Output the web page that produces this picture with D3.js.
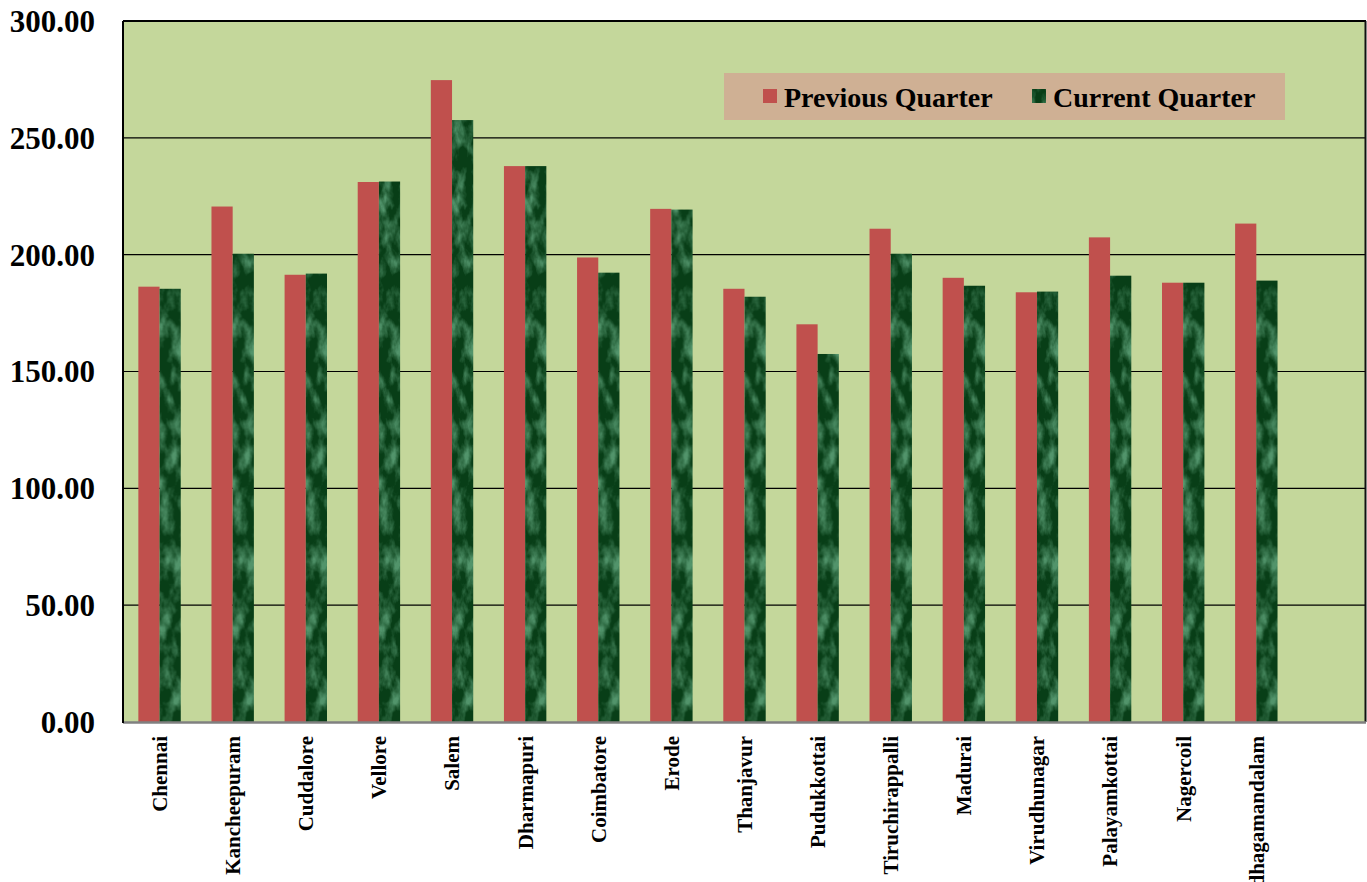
<!DOCTYPE html>
<html>
<head>
<meta charset="utf-8">
<script src="https://cdn.jsdelivr.net/npm/d3@7/dist/d3.min.js"></script>
<style>
html,body{margin:0;padding:0;background:#fff;overflow:hidden;}
svg{display:block;}
text{font-family:"Liberation Serif","Times New Roman",serif;font-weight:bold;fill:#000;}
</style>
</head>
<body>
<svg id="chart" width="1367" height="882"></svg>
<script>
const categories = ["Chennai","Kancheepuram","Cuddalore","Vellore","Salem","Dharmapuri","Coimbatore","Erode","Thanjavur","Pudukkottai","Tiruchirappalli","Madurai","Virudhunagar","Palayamkottai","Nagercoil","Udhagamandalam"];
const previousQuarter = [186.3,220.6,191.4,231.1,274.7,237.9,198.8,219.6,185.4,170.2,211.1,190.1,183.9,207.4,188.0,213.3];
const currentQuarter  = [185.4,200.4,191.9,231.3,257.6,237.9,192.3,219.3,182.0,157.5,200.4,186.7,184.2,191.0,188.0,188.9];
const yTicks = [0,50,100,150,200,250,300];
const seriesNames = ["Previous Quarter","Current Quarter"];

const svg = d3.select("#chart");
const W = 1367, H = 882;
const m = {left:123, right:1, top:21, bottom:160};
const pw = W - m.left - m.right, ph = H - m.top - m.bottom;

const defs = svg.append("defs");
const f = defs.append("filter").attr("id","marble").attr("x",0).attr("y",0).attr("width",1).attr("height",1)
 .attr("filterUnits","objectBoundingBox").attr("color-interpolation-filters","sRGB");
f.append("feTurbulence").attr("type","fractalNoise").attr("baseFrequency","0.08 0.04").attr("numOctaves",4).attr("seed",7).attr("result","n");
f.append("feColorMatrix").attr("in","n").attr("type","matrix")
 .attr("values","0 0 0 0 0.32  0 0 0 0 0.58  0 0 0 0 0.42  2.6 0 0 0 -1.05");
const pat = defs.append("pattern").attr("id","greenTex").attr("patternUnits","userSpaceOnUse").attr("width",W).attr("height",H);
pat.append("rect").attr("width",W).attr("height",H).attr("fill","#083e17");
pat.append("rect").attr("width",W).attr("height",H).attr("filter","url(#marble)");

const g = svg.append("g").attr("transform",`translate(${m.left},${m.top})`);

const x = d3.scaleBand().domain(categories.concat([""])).range([0,pw]).padding(0);
const y = d3.scaleLinear().domain([0,300]).range([ph,0]);

g.append("rect").attr("width",pw).attr("height",ph).attr("fill","#c4d79b");

// gridlines
g.selectAll("line.grid").data(yTicks.filter(d=>d>0)).enter().append("line")
 .attr("x1",0).attr("x2",pw).attr("y1",d=>y(d)).attr("y2",d=>y(d))
 .attr("stroke","#000").attr("stroke-width",1.2);

const bw = x.bandwidth()*0.29;
const grp = g.selectAll("g.cat").data(categories).enter().append("g")
 .attr("transform",d=>`translate(${x(d)+x.bandwidth()/2},0)`);
grp.append("rect").attr("x",-bw).attr("width",bw)
 .attr("y",(d,i)=>y(previousQuarter[i])).attr("height",(d,i)=>ph-y(previousQuarter[i]))
 .attr("fill","#c0504d");
grp.append("rect").attr("x",0).attr("width",bw)
 .attr("y",(d,i)=>y(currentQuarter[i])).attr("height",(d,i)=>ph-y(currentQuarter[i]))
 .attr("fill","url(#greenTex)");

// border
g.append("line").attr("x1",0).attr("x2",pw).attr("y1",0).attr("y2",0).attr("stroke","#000").attr("stroke-width",2);
g.append("line").attr("x1",pw-0.5).attr("x2",pw-0.5).attr("y1",0).attr("y2",ph).attr("stroke","#111").attr("stroke-width",2);
g.append("line").attr("x1",0).attr("x2",pw).attr("y1",ph+0.5).attr("y2",ph+0.5).attr("stroke","#808080").attr("stroke-width",2.5);
g.append("line").attr("x1",0).attr("x2",0).attr("y1",0).attr("y2",ph+1).attr("stroke","#000").attr("stroke-width",2);

// y labels
g.selectAll("text.ytick").data(yTicks).enter().append("text")
 .attr("x",-28).attr("y",d=>y(d)).attr("dy","0.35em").attr("text-anchor","end")
 .style("font-size","31px").text(d=>d3.format(".2f")(d));

// x labels
g.selectAll("text.xtick").data(categories).enter().append("text")
 .attr("transform",d=>`translate(${x(d)+x.bandwidth()/2},${ph+14}) rotate(-90)`)
 .attr("text-anchor","end").attr("dy","0.35em")
 .style("font-size","21px").text(d=>d);

// legend
const lg = svg.append("g").attr("transform","translate(724,73)");
lg.append("rect").attr("width",561).attr("height",47).attr("fill","#cfb094");
const items = [{name:seriesNames[0],fill:"#c0504d",x:39},{name:seriesNames[1],fill:"url(#greenTex)",x:308}];
const li = lg.selectAll("g.li").data(items).enter().append("g").attr("transform",d=>`translate(${d.x},0)`);
li.append("rect").attr("y",16).attr("width",14).attr("height",14).attr("fill",d=>d.fill);
li.append("text").attr("x",21).attr("y",24).attr("dy","0.35em").style("font-size","28px").text(d=>d.name);
</script>
</body>
</html>
